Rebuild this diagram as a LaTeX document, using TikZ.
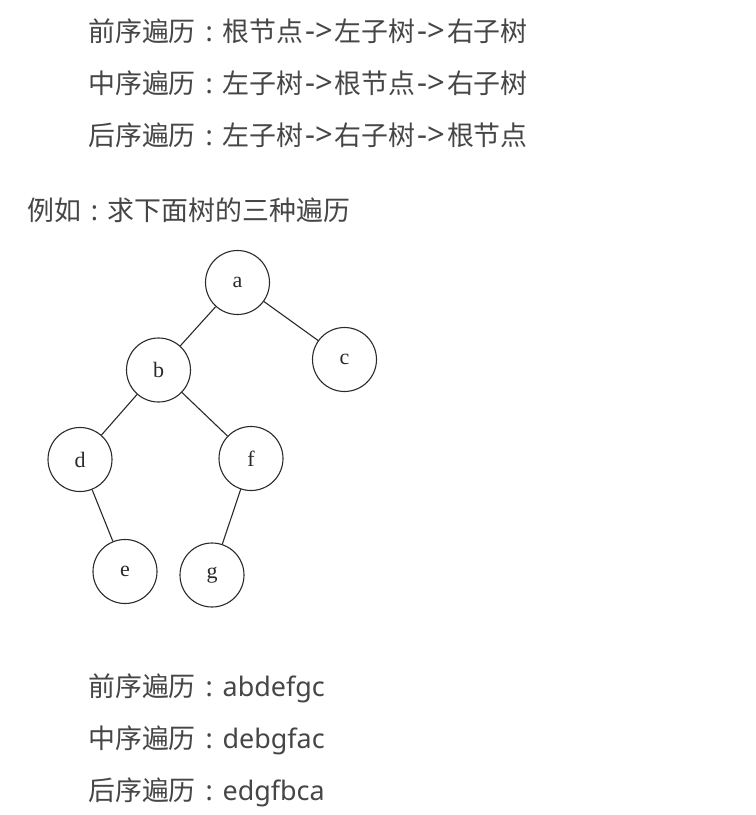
\documentclass[tikz,border=0pt]{standalone}
\usepackage{fontspec}
\newfontfamily\cjk{Noto Sans CJK SC}
\newfontfamily\lat{Noto Sans}
\newfontfamily\treefont{Liberation Serif}
\definecolor{txt}{HTML}{464646}
\definecolor{ink}{HTML}{2A2A2A}
\newcommand\myarrow{\makebox[31.5pt]{\lat\fontsize{31}{30}\selectfont->}}
\newcommand\mycolon{\makebox[26.9pt]{\lat:}}
\begin{document}
\begin{tikzpicture}[x=1pt,y=-1pt,
  line/.style={anchor=base west,inner sep=0pt,text=txt,font=\cjk\fontsize{26.9}{30}\selectfont},
  tnode/.style={circle,draw=ink,line width=1.1pt,minimum size=64pt,inner sep=0pt,font=\treefont\fontsize{22}{24}\selectfont,text=ink},
  edge/.style={draw=ink,line width=1.1pt}]
\useasboundingbox[fill=white] (0,0) rectangle (756,815);
\node[line] (l1) at (88,41) {前序遍历\mycolon 根节点\myarrow 左子树\myarrow 右子树};
\node[line] (l2) at (88,93) {中序遍历\mycolon 左子树\myarrow 根节点\myarrow 右子树};
\node[line] (l3) at (88,145) {后序遍历\mycolon 左子树\myarrow 右子树\myarrow 根节点};
\node[line] (ex) at (27,220) {例如\mycolon 求下面树的三种遍历};
\node[tnode] (a) at (237.5,282.5) {a};
\node[tnode] (b) at (158.5,370) {b};
\node[tnode] (c) at (344.5,359.5) {c};
\node[tnode] (d) at (80,459.5) {d};
\node[tnode] (f) at (251,458.5) {f};
\node[tnode] (e) at (125,571.5) {e};
\node[tnode] (g) at (212,575) {g};
\draw[edge] (a) -- (b);
\draw[edge] (a) -- (c);
\draw[edge] (b) -- (d);
\draw[edge] (b) -- (f);
\draw[edge] (d) -- (e);
\draw[edge] (f) -- (g);
\node[line] (r1) at (88,696) {前序遍历\mycolon{\lat abdefgc}};
\node[line] (r2) at (88,748) {中序遍历\mycolon{\lat debgfac}};
\node[line] (r3) at (88,800) {后序遍历\mycolon{\lat edgfbca}};
\end{tikzpicture}
\end{document}
